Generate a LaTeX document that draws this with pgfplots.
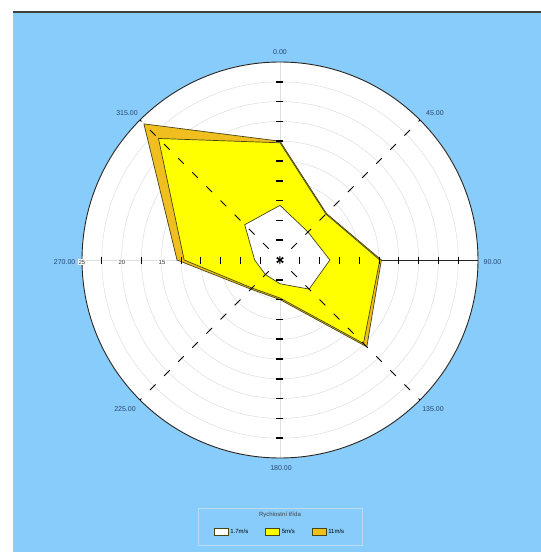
\documentclass[border=0pt]{standalone}
\usepackage{pgfplots}
\pgfplotsset{compat=1.18}
\usepgfplotslibrary{polar}
\usepackage{fontspec}
\setmainfont{Liberation Sans}
\definecolor{bgblue}{RGB}{135,204,250}
\definecolor{lblue}{RGB}{40,70,115}
\definecolor{orng}{RGB}{240,190,30}
\definecolor{yel}{RGB}{255,255,0}
\definecolor{edge}{RGB}{70,70,20}
\definecolor{ring}{RGB}{222,222,222}
\definecolor{legborder}{RGB}{185,220,245}
\begin{document}
\begin{tikzpicture}[x=1pt,y=1pt]
\fill[white] (0,0) rectangle (541,552);
\fill[bgblue] (13,0) rectangle (541,539);
\draw[black!75, line width=2.5pt] (13,540) -- (541,540);
\begin{polaraxis}[
  at={(280pt,292pt)}, anchor=center,
  width=396pt, height=396pt, scale only axis,
  ymin=0, ymax=25,
  xtick={0,90,180,270}, ytick={2.5,5,...,25},
  xticklabels={}, yticklabels={},
  major tick length=0pt,
  xmajorgrids, ymajorgrids,
  major grid style={ring, line width=0.5pt},
  axis line style={black!85, line width=0.9pt},
  axis background/.style={fill=white},
  x filter/.expression={90-x},
  clip=false,
  legend columns=3,
  legend style={at={(0.5,-0.187)}, anchor=center, draw=none, fill=none,
    font=\fontsize{6}{7}\selectfont,
    /tikz/every even column/.append style={column sep=15pt}},
  legend image code/.code={\draw[#1, draw=edge, line width=0.5pt] (0pt,-3.5pt) rectangle (14pt,3.5pt);},
]
% 11 m/s
\addplot[forget plot, fill=orng, draw=edge, line width=0.7pt] coordinates {
 (0,15.0) (45,8.3) (90,12.8) (135,15.5) (180,5.0) (225,5.2) (270,13.0) (315,24.3) (360,15.0)};
% 5 m/s
\addplot[forget plot, fill=yel, draw=edge, line width=0.7pt] coordinates {
 (0,14.8) (45,8.2) (90,12.6) (135,14.9) (180,4.8) (225,5.0) (270,12.1) (315,21.7) (360,14.8)};
% 1.7 m/s
\addplot[forget plot, fill=white, draw=edge, line width=0.7pt] coordinates {
 (0,6.9) (45,5.0) (90,6.3) (135,5.2) (180,3.0) (225,2.6) (270,3.2) (315,6.3) (360,6.9)};
% dashed diagonals
\addplot[forget plot, black, line width=1.0pt, dash pattern=on 8pt off 12pt, dash phase=4pt] coordinates {(45,0) (45,25)};
\addplot[forget plot, black, line width=1.0pt, dash pattern=on 8pt off 12pt, dash phase=4pt] coordinates {(135,0) (135,25)};
\addplot[forget plot, black, line width=1.0pt, dash pattern=on 8pt off 12pt, dash phase=4pt] coordinates {(225,0) (225,25)};
\addplot[forget plot, black, line width=1.0pt, dash pattern=on 8pt off 12pt, dash phase=4pt] coordinates {(315,0) (315,25)};
% ticks on the vertical axis
\addplot[forget plot, only marks, mark=-, mark size=3.5pt, mark options={line width=1.5pt, black}] coordinates {
 (0,2.5) (0,5) (0,7.5) (0,10) (0,12.5) (0,15) (0,17.5) (0,20) (0,22.5)
 (180,2.5) (180,5) (180,7.5) (180,10) (180,12.5) (180,15) (180,17.5) (180,20) (180,22.5)};
% ticks on the horizontal axis
\addplot[forget plot, only marks, mark=|, mark size=3.5pt, mark options={line width=0.9pt, black}] coordinates {
 (90,2.5) (90,5) (90,7.5) (90,10) (90,12.5) (90,15) (90,17.5) (90,20) (90,22.5)
 (270,2.5) (270,5) (270,7.5) (270,10) (270,12.5) (270,17.5) (270,22.5)};
\addplot[forget plot, only marks, mark=asterisk, mark size=4pt, mark options={line width=1pt, black}] coordinates {(0,0)};
\addlegendimage{fill=white}
\addlegendentry{1.7m/s}
\addlegendimage{fill=yel}
\addlegendentry{5m/s}
\addlegendimage{fill=orng}
\addlegendentry{11m/s}
\end{polaraxis}
\begin{scope}[every node/.style={font=\fontsize{7}{8}\selectfont, text=lblue, inner sep=0.5pt}]
\node at (280,500) {0.00};
\node at (435,439) {45.00};
\node[anchor=west] at (483,290) {90.00};
\node at (433,143) {135.00};
\node at (281,84) {180.00};
\node at (125,143) {225.00};
\node[anchor=east] at (76,290) {270.00};
\node at (127,439) {315.00};
\end{scope}
\begin{scope}[every node/.style={font=\fontsize{6}{7}\selectfont, text=black!80, inner sep=0.5pt, fill=white}]
\node at (82,290) {25};
\node at (122,290) {20};
\node at (162,290) {15};
\end{scope}
\draw[legborder, line width=0.6pt] (198,7) rectangle (362,44);
\node[font=\fontsize{6}{7}\selectfont, text=black!75] at (280,37) {Rychlostní třída};
\pgfresetboundingbox
\path[use as bounding box] (0,0) rectangle (541,552);
\end{tikzpicture}
\end{document}
